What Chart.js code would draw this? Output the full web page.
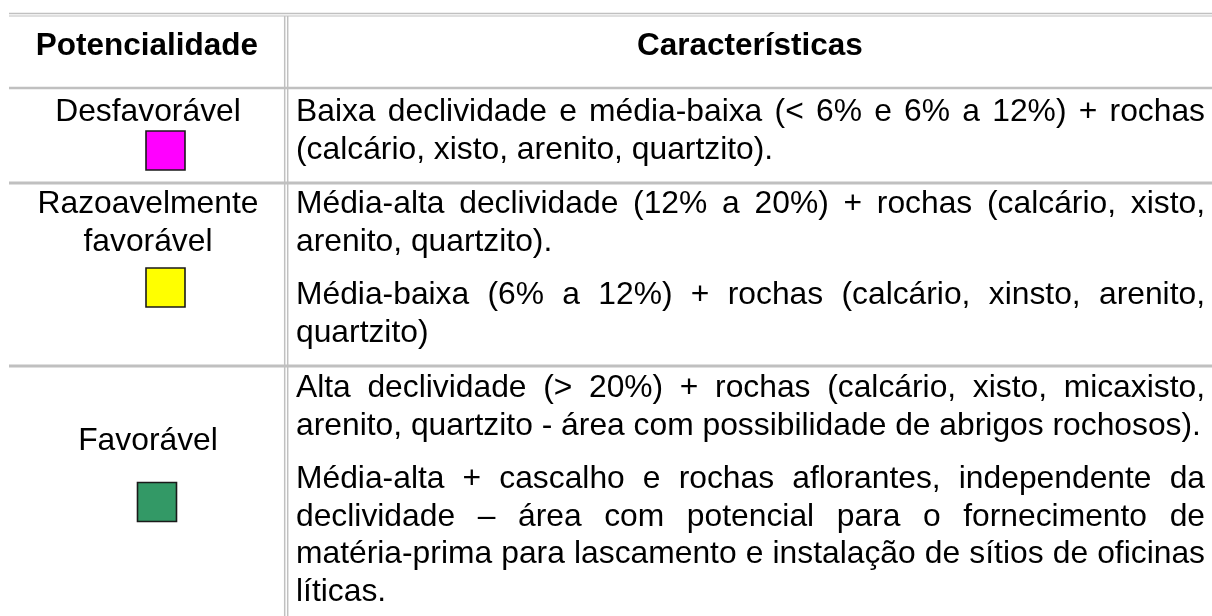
<!DOCTYPE html>
<html>
<head>
<meta charset="utf-8">
<script src="https://cdn.jsdelivr.net/npm/chart.js@4/dist/chart.umd.min.js"></script>
<style>
  html, body { margin: 0; padding: 0; background: #fff; }
  canvas { display: block; }
</style>
</head>
<body>
<canvas id="tableChart" width="1212" height="616"></canvas>
<script>
// table content
var headers = ['Potencialidade', 'Características'];
var categories = [['Desfavorável'], ['Razoavelmente', 'favorável'], ['Favorável']];
var swatchColors = ['#ff00ff', '#ffff00', '#339966'];
var characteristics = [
    [
        ['Baixa declividade e média-baixa (< 6% e 6% a 12%) + rochas',
         '(calcário, xisto, arenito, quartzito).']
    ],
    [
        ['Média-alta declividade (12% a 20%) + rochas (calcário, xisto,',
         'arenito, quartzito).'],
        ['Média-baixa (6% a 12%) + rochas (calcário, xinsto, arenito,',
         'quartzito)']
    ],
    [
        ['Alta declividade (> 20%) + rochas (calcário, xisto, micaxisto,',
         'arenito, quartzito - área com possibilidade de abrigos rochosos).'],
        ['Média-alta + cascalho e rochas aflorantes, independente da',
         'declividade – área com potencial para o fornecimento de',
         'matéria-prima para lascamento e instalação de sítios de oficinas',
         'líticas.']
    ]
];

// page geometry (pixels, same units as the hidden scales)
var layout = {
    left: 9, right: 1212, bottom: 616,
    divA: 284.7, divB: 287.7,
    topLines: [13.5, 16],
    rowLines: [88, 183, 366],
    rowLineWidths: [2.5, 3, 3],
    headerBaseline: 55,
    labelX: 148,
    labelBaselines: [121, 213, 450],
    swatchCenters: [[165.5, 150.5], [165.5, 287.5], [157, 502]],
    swatchSide: 39,
    textLeft: 296, textRight: 1205,
    textBaselines: [121, 213, 397],
    lineHeight: 37.8, paraGap: 15.2,
    font: '"Liberation Sans", Arial, sans-serif', headerSize: 31.5, fontSize: 31.8,
    gridColor: '#c0c0c0'
};

function drawJustified(ctx, text, x0, x1, y, justify) {
    var words = text.split(' ');
    if (!justify || words.length < 2) {
        ctx.fillText(text, x0, y);
        return;
    }
    var widths = words.map(function(w) { return ctx.measureText(w).width; });
    var total = widths.reduce(function(a, b) { return a + b; }, 0);
    var gap = (x1 - x0 - total) / (words.length - 1);
    var x = x0;
    words.forEach(function(w, i) {
        ctx.fillText(w, x, y);
        x += widths[i] + gap;
    });
}

var tablePlugin = {
    id: 'tableGrid',
    beforeDatasetsDraw: function(chart) {
        var ctx = chart.ctx, sx = chart.scales.x, sy = chart.scales.y;
        ctx.save();
        ctx.strokeStyle = layout.gridColor;

        function hline(y, w) {
            ctx.lineWidth = w;
            ctx.beginPath();
            ctx.moveTo(sx.getPixelForValue(layout.left), sy.getPixelForValue(y));
            ctx.lineTo(sx.getPixelForValue(layout.right), sy.getPixelForValue(y));
            ctx.stroke();
        }
        function vline(x, w) {
            ctx.lineWidth = w;
            ctx.beginPath();
            ctx.moveTo(sx.getPixelForValue(x), sy.getPixelForValue(layout.topLines[1]));
            ctx.lineTo(sx.getPixelForValue(x), sy.getPixelForValue(layout.bottom));
            ctx.stroke();
        }

        hline(layout.topLines[0], 1.6);
        hline(layout.topLines[1], 1.1);
        layout.rowLines.forEach(function(y, i) { hline(y, layout.rowLineWidths[i]); });
        vline(layout.divA, 1.5);
        vline(layout.divB, 1.5);
        ctx.restore();
    },
    afterDatasetsDraw: function(chart) {
        var ctx = chart.ctx, sx = chart.scales.x, sy = chart.scales.y;
        ctx.save();
        ctx.fillStyle = '#000';
        ctx.textBaseline = 'alphabetic';

        // header
        ctx.font = 'bold ' + layout.headerSize + 'px ' + layout.font;
        ctx.textAlign = 'center';
        ctx.fillText(headers[0], sx.getPixelForValue((layout.left + layout.divA) / 2), sy.getPixelForValue(layout.headerBaseline));
        ctx.fillText(headers[1], sx.getPixelForValue((layout.divB + layout.right) / 2), sy.getPixelForValue(layout.headerBaseline));

        // category labels
        ctx.font = layout.fontSize + 'px ' + layout.font;
        categories.forEach(function(lines, r) {
            lines.forEach(function(line, j) {
                ctx.fillText(line, sx.getPixelForValue(layout.labelX),
                    sy.getPixelForValue(layout.labelBaselines[r] + j * layout.lineHeight));
            });
        });

        // characteristics, justified
        ctx.textAlign = 'left';
        var x0 = sx.getPixelForValue(layout.textLeft), x1 = sx.getPixelForValue(layout.textRight);
        characteristics.forEach(function(paras, r) {
            var y = layout.textBaselines[r];
            paras.forEach(function(lines) {
                lines.forEach(function(line, j) {
                    drawJustified(ctx, line, x0, x1, sy.getPixelForValue(y), j < lines.length - 1);
                    y += layout.lineHeight;
                });
                y += layout.paraGap;
            });
        });
        ctx.restore();
    }
};

var ctx = document.getElementById('tableChart').getContext('2d');
var chart = new Chart(ctx, {
    type: 'scatter',
    data: {
        datasets: [{
            label: 'Potencialidade',
            data: layout.swatchCenters.map(function(c) { return { x: c[0], y: c[1] }; }),
            pointStyle: 'rect',
            pointRadius: layout.swatchSide / Math.SQRT2,
            pointHoverRadius: layout.swatchSide / Math.SQRT2,
            pointBackgroundColor: swatchColors,
            pointBorderColor: '#1a1a1a',
            pointBorderWidth: 1.6
        }]
    },
    options: {
        responsive: false,
        animation: false,
        devicePixelRatio: 1,
        events: [],
        layout: { padding: 0, autoPadding: false },
        plugins: { legend: { display: false }, tooltip: { enabled: false } },
        scales: {
            x: { type: 'linear', min: 0, max: 1212, display: false },
            y: { type: 'linear', min: 0, max: 616, reverse: true, display: false }
        }
    },
    plugins: [tablePlugin]
});
</script>
</body>
</html>
